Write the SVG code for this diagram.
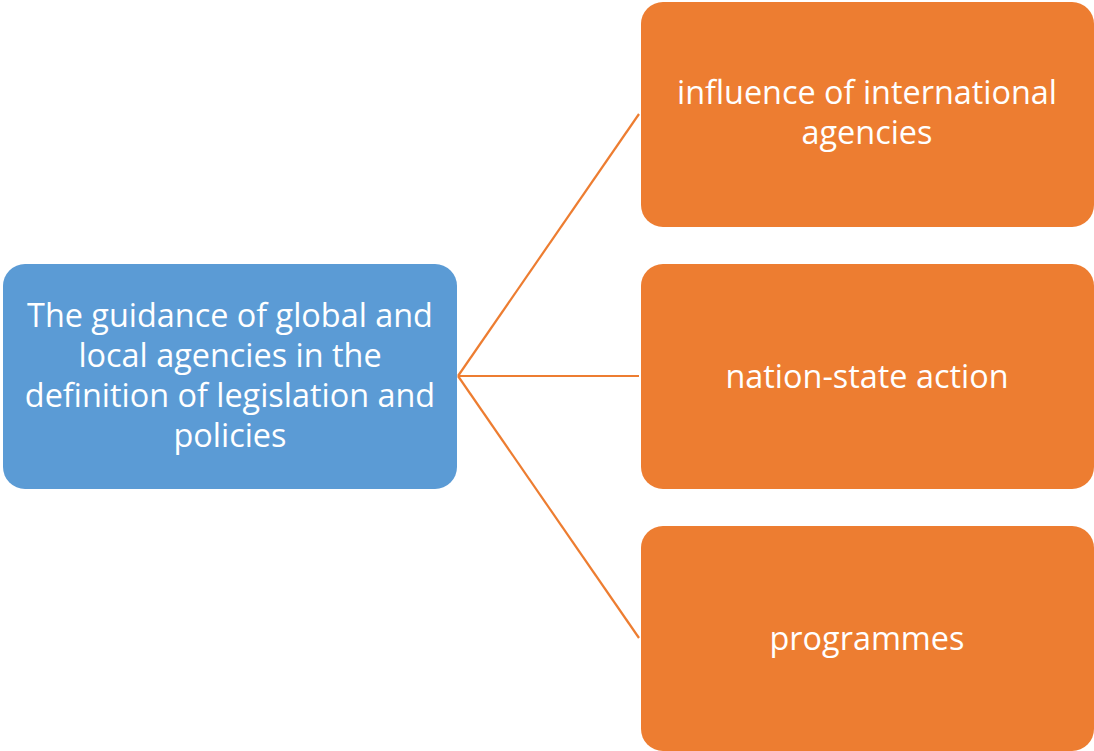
<svg xmlns="http://www.w3.org/2000/svg" width="1094" height="751" viewBox="0 0 1094 751">
<style>
.t{font-family:"Open Sans","Liberation Sans",sans-serif;font-size:32.4px;fill:#fff;text-anchor:middle}
.c{stroke:#ED7D31;stroke-width:2.2;fill:none}
</style>
<rect width="1094" height="751" fill="#fff"/>
<g id="connectors">
<line class="c" x1="458" y1="376" x2="639" y2="114"/>
<line class="c" x1="458" y1="376" x2="639" y2="376"/>
<line class="c" x1="458" y1="376" x2="639" y2="638"/>
</g>
<g id="root">
<rect x="3" y="264" width="454" height="225" rx="22" fill="#5B9BD5"/>
<text class="t" x="230" y="327">The guidance of global and</text>
<text class="t" x="230" y="367">local agencies in the</text>
<text class="t" x="230" y="407">definition of legislation and</text>
<text class="t" x="230" y="447">policies</text>
</g>
<g id="n1">
<rect x="641" y="2" width="453" height="225" rx="22" fill="#ED7D31"/>
<text class="t" x="867" y="104">influence of international</text>
<text class="t" x="867" y="144">agencies</text>
</g>
<g id="n2">
<rect x="641" y="264" width="453" height="225" rx="22" fill="#ED7D31"/>
<text class="t" x="867" y="388">nation-state action</text>
</g>
<g id="n3">
<rect x="641" y="526" width="453" height="225" rx="22" fill="#ED7D31"/>
<text class="t" x="867" y="650">programmes</text>
</g>
</svg>
